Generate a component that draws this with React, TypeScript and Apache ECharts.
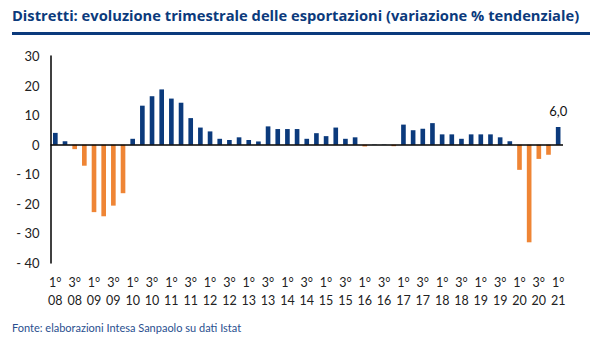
import React, { useEffect, useRef } from "react";
import * as echarts from "echarts";

const years = ["08", "09", "10", "11", "12", "13", "14", "15", "16", "17", "18", "19", "20", "21"];
const quarters = ["1°", "2°", "3°", "4°"];
const categories: string[] = [];
years.forEach((y) => quarters.forEach((q) => categories.push(q + "\n" + y)));
categories.splice(53);

const values = [
  4.0, 1.2, -1.5, -7.1,
  -22.8, -24.2, -20.6, -16.4,
  2.0, 13.2, 16.4, 18.7,
  15.6, 14.2, 9.0, 5.8,
  4.5, 2.0, 1.6, 2.5,
  1.6, 1.1, 6.2, 5.3,
  5.3, 5.3, 2.0, 3.9,
  2.9, 5.8, 2.0, 2.5,
  -0.6, 0.1, 0.1, -0.5,
  6.8, 4.9, 5.4, 7.3,
  3.5, 3.5, 2.0, 3.5,
  3.5, 3.5, 2.5, 1.2,
  -8.5, -33.0, -4.8, -3.4,
  6.0,
];

const yTicks = { min: -40, max: 30, interval: 10 };
const titleText = "Distretti: evoluzione trimestrale delle esportazioni (variazione % tendenziale)";
const sourceText = "Fonte: elaborazioni Intesa Sanpaolo su dati Istat";

const NAVY = "#0B3A7C";
const ORANGE = "#EF8535";

export default function App() {
  const ref = useRef<HTMLDivElement>(null);
  useEffect(() => {
    document.body.style.margin = "0";
    if (!ref.current) return;
    const chart = echarts.init(ref.current, null, { renderer: "svg" });
    const last = values.length - 1;
    chart.setOption({
      animation: false,
      backgroundColor: "#fff",
      textStyle: { fontFamily: "Lato" },
      grid: { left: 50.5, right: 37, top: 56, bottom: 97 },
      graphic: [
        {
          type: "text",
          left: 12,
          top: 7,
          style: {
            text: titleText,
            fontSize: 14.7,
            fontWeight: "bold",
            fontFamily: "Open Sans",
            fill: NAVY,
          },
        },
        { type: "rect", shape: { x: 12, y: 32, width: 578, height: 3 }, style: { fill: NAVY } },
        {
          type: "text",
          left: 12,
          top: 322,
          style: { text: sourceText, fontSize: 11, fontFamily: "Lato", fill: "#2A4F8F" },
        },
      ],
      xAxis: {
        type: "category",
        data: categories,
        axisLine: { show: false, onZero: false },
        axisTick: { show: false },
        axisLabel: {
          interval: 1,
          margin: 10,
          fontSize: 12.5,
          lineHeight: 18,
          color: "#222",
          fontFamily: "Lato",
        },
      },
      yAxis: {
        type: "value",
        min: yTicks.min,
        max: yTicks.max,
        interval: yTicks.interval,
        axisLine: { show: true, lineStyle: { color: "#000", width: 1.5 } },
        axisTick: { show: false },
        splitLine: { show: false },
        axisLabel: {
          margin: 11,
          fontSize: 13,
          color: "#222",
          fontFamily: "Lato",
          formatter: (v: number) => (v < 0 ? "- " + Math.abs(v) : String(v)),
        },
      },
      series: [
        {
          type: "bar",
          barWidth: "48%",
          data: values.map((v, i) => ({
            value: v,
            itemStyle: { color: v < 0 ? ORANGE : NAVY },
            label:
              i === last
                ? {
                    show: true,
                    position: "top",
                    distance: 9,
                    fontSize: 13,
                    color: "#111",
                    fontFamily: "Lato",
                    formatter: (p: any) => p.value.toFixed(1).replace(".", ","),
                  }
                : { show: false },
          })),
          markLine: {
            silent: true,
            symbol: "none",
            label: { show: false },
            lineStyle: { color: "#000", width: 1.5, type: "solid" },
            data: [{ yAxis: 0 }],
          },
        },
      ],
    });
    return () => chart.dispose();
  }, []);
  return <div ref={ref} style={{ width: 600, height: 360 }} />;
}
